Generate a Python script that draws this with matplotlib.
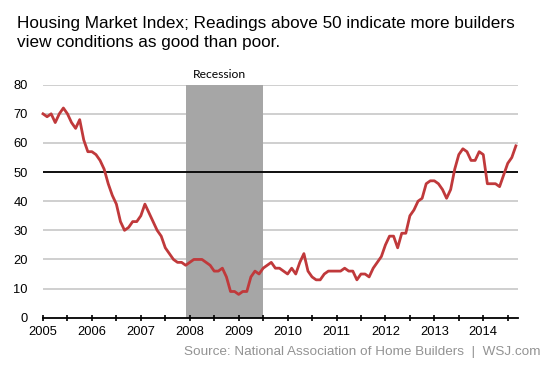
import numpy as np
import matplotlib
matplotlib.use("Agg")
import matplotlib.pyplot as plt
from matplotlib.ticker import MultipleLocator

plt.rcParams['font.family'] = ['Liberation Sans', 'DejaVu Sans']

# monthly readings, Jan 2005 .. Sep 2014
hmi_2005 = [70, 69, 70, 67, 70, 72, 70, 67, 65, 68, 61, 57]
hmi_2006 = [57, 56, 54, 51, 46, 42, 39, 33, 30, 31, 33, 33]
hmi_2007 = [35, 39, 36, 33, 30, 28, 24, 22, 20, 19, 19, 18]
hmi_2008 = [19, 20, 20, 20, 19, 18, 16, 16, 17, 14, 9, 9]
hmi_2009 = [8, 9, 9, 14, 16, 15, 17, 18, 19, 17, 17, 16]
hmi_2010 = [15, 17, 15, 19, 22, 16, 14, 13, 13, 15, 16, 16]
hmi_2011 = [16, 16, 17, 16, 16, 13, 15, 15, 14, 17, 19, 21]
hmi_2012 = [25, 28, 28, 24, 29, 29, 35, 37, 40, 41, 46, 47]
hmi_2013 = [47, 46, 44, 41, 44, 51, 56, 58, 57, 54, 54, 57]
hmi_2014 = [56, 46, 46, 46, 45, 49, 53, 55, 59]

hmi = (hmi_2005 + hmi_2006 + hmi_2007 + hmi_2008 + hmi_2009 + hmi_2010
       + hmi_2011 + hmi_2012 + hmi_2013 + hmi_2014)
dates = 2005 + np.arange(len(hmi)) / 12.0

years = list(range(2005, 2015))
recession = (2007.92, 2009.5)

fig = plt.figure(figsize=(5.53, 3.69), dpi=100)
ax = fig.add_axes([43/553, 1-317.7/369, 475/553, 233/369])

ax.axvspan(recession[0], recession[1], color='#a6a6a6', lw=0, zorder=1)
for v in range(10, 90, 10):
    ax.axhline(v, color='#cccccc', lw=1.3, zorder=0)
ax.axhline(50, color='black', lw=1.3, zorder=2)
ax.plot(dates, hmi, color='#c0393b', lw=2.0, zorder=3, solid_joinstyle='round', clip_on=False)

ax.set_xlim(2005, 2014.71)
ax.set_ylim(0, 80)
for s in ['top', 'right', 'left']:
    ax.spines[s].set_visible(False)
ax.spines['bottom'].set_linewidth(1.3)
ax.set_xticks(years)
ax.set_xticklabels([str(y) for y in years])
ax.xaxis.set_minor_locator(MultipleLocator(0.5))
ax.tick_params(axis='x', which='both', direction='inout', length=5, width=1.2, labelsize=9.3, pad=3.5)
ax.yaxis.set_major_locator(MultipleLocator(10))
ax.tick_params(axis='y', length=0, labelsize=9.3, pad=11)

ax.text(2008.6, 81.5, 'Recession', ha='center', va='bottom',
        fontsize=8.7, family=['Lato', 'DejaVu Sans'])

fig.text(17/553, 1-28/369, 'Housing Market Index; Readings above 50 indicate more builders',
         ha='left', va='baseline', fontsize=12.3)
fig.text(17/553, 1-47.5/369, 'view conditions as good than poor.',
         ha='left', va='baseline', fontsize=12.3)
fig.text(540/553, 1-352/369, 'Source: National Association of Home Builders  |  WSJ.com',
         ha='right', va='center', fontsize=9.7, color='#939393')

fig.savefig('out.png', dpi=100)
